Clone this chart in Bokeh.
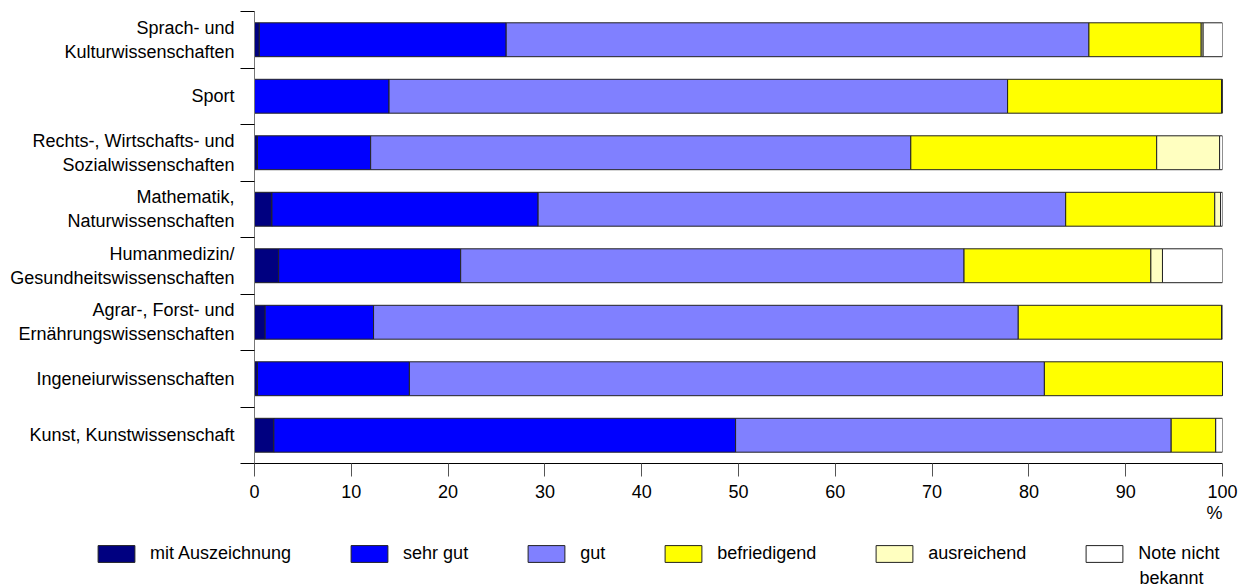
from bokeh.plotting import figure
from bokeh.layouts import column
from bokeh.models import (ColumnDataSource, Range1d, FixedTicker, Legend, LegendItem, Title, Label)
from bokeh.embed import file_html
from bokeh.resources import INLINE

categories = ["Sprach- und\nKulturwissenschaften", "Sport",
              "Rechts-, Wirtschafts- und\nSozialwissenschaften",
              "Mathematik,\nNaturwissenschaften",
              "Humanmedizin/\nGesundheitswissenschaften",
              "Agrar-, Forst- und\nErnährungswissenschaften",
              "Ingeneiurwissenschaften", "Kunst, Kunstwissenschaft"]
series = ["mit Auszeichnung", "sehr gut", "gut", "befriedigend", "ausreichend", "Note nicht"]
series_last_line2 = "bekannt"
mit_auszeichnung = [0.5, 0.0, 0.3, 1.8, 2.5, 1.1, 0.3, 2.0]
sehr_gut = [25.5, 13.9, 11.7, 27.5, 18.8, 11.2, 15.7, 47.7]
gut = [60.2, 63.9, 55.8, 54.5, 52.0, 66.6, 65.6, 45.0]
befriedigend = [11.6, 22.1, 25.4, 15.4, 19.3, 21.0, 18.4, 4.6]
ausreichend = [0.2, 0.1, 6.5, 0.6, 1.2, 0.0, 0.0, 0.0]
note_nicht_bekannt = [2.0, 0.0, 0.3, 0.2, 6.2, 0.1, 0.0, 0.7]
x_ticks = [0, 10, 20, 30, 40, 50, 60, 70, 80, 90, 100]

colors = ["#000080", "#0000FF", "#8080FF", "#FFFF00", "#FFFFC0", "#FFFFFF"]
keys = ["s0", "s1", "s2", "s3", "s4", "s5"]

n = len(categories)
ypos = [n - 1 - i for i in range(n)]
source = ColumnDataSource(dict(y=ypos, s0=mit_auszeichnung, s1=sehr_gut, s2=gut,
                               s3=befriedigend, s4=ausreichend, s5=note_nicht_bekannt))

FONT = "Liberation Sans"
FS = "18px"
OUTLINE = "#222222"

p = figure(width=1240, height=530, output_backend="svg", toolbar_location=None,
           x_range=Range1d(0, 100), y_range=Range1d(-0.5, n - 0.5),
           min_border_left=254, min_border_right=18, min_border_top=11, min_border_bottom=67)
p.outline_line_color = None
p.grid.grid_line_color = None
p.background_fill_color = "white"

p.hbar_stack(keys, y="y", height=0.6, color=colors, source=source,
             line_color=OUTLINE, line_width=1)

# x axis
p.xaxis.ticker = FixedTicker(ticks=x_ticks)
p.xaxis.major_tick_out = 13
p.xaxis.major_tick_in = 0
p.xaxis.minor_tick_line_color = None
p.xaxis.major_label_standoff = 8
p.xaxis.major_label_text_font = FONT
p.xaxis.major_label_text_font_size = FS
p.xaxis.major_label_text_color = "black"
p.xaxis.axis_line_color = "black"
p.xaxis.major_tick_line_color = "#555555"

# y axis
p.yaxis.ticker = FixedTicker(ticks=ypos, minor_ticks=[k - 0.5 for k in range(n + 1)])
p.yaxis.major_label_overrides = {yv: c for yv, c in zip(ypos, categories)}
p.yaxis.major_tick_line_color = None
p.yaxis.major_tick_out = 0
p.yaxis.major_tick_in = 0
p.yaxis.minor_tick_out = 14
p.yaxis.minor_tick_in = 0
p.yaxis.minor_tick_line_color = "black"
p.yaxis.axis_line_color = "#777777"
p.yaxis.major_label_standoff = 6
p.yaxis.major_label_text_font = FONT
p.yaxis.major_label_text_font_size = FS
p.yaxis.major_label_text_color = "black"

pct = Title(text="%", align="right", text_font=FONT, text_font_size=FS,
            text_font_style="normal", text_color="black", standoff=0, offset=0)
p.add_layout(pct, "below")

# legend figure
pl = figure(width=1240, height=56, output_backend="svg", toolbar_location=None,
            x_range=Range1d(0, 1), y_range=Range1d(0, 1),
            min_border_left=93, min_border_right=0, min_border_top=13, min_border_bottom=0)
if "frame_align" in pl.properties():
    pl.frame_align = False
pl.outline_line_color = None
pl.axis.visible = False
pl.grid.grid_line_color = None
offscreen = ColumnDataSource(dict(x=[-5.0], y=[-5.0]))
dummy = [pl.rect(x="x", y="y", width=0.1, height=0.1, source=offscreen, fill_color=c,
                 line_color=OUTLINE, line_width=1) for c in colors]
items = [LegendItem(label=lab, renderers=[r]) for lab, r in zip(series, dummy)]
legend = Legend(items=items, orientation="horizontal", location="top_left",
                glyph_width=46, glyph_height=21, label_standoff=11, spacing=55,
                padding=0, margin=0, border_line_color=None, background_fill_alpha=0,
                label_text_font=FONT, label_text_font_size=FS, label_text_color="black")
pl.add_layout(legend, "center")
pl.add_layout(Label(x=1046, y=9, x_units="screen", y_units="screen", text=series_last_line2,
                    text_font=FONT, text_font_size=FS, text_color="black",
                    text_baseline="middle", text_align="left"))

open("out.html", "w").write(file_html(column(p, pl, spacing=0), INLINE))
